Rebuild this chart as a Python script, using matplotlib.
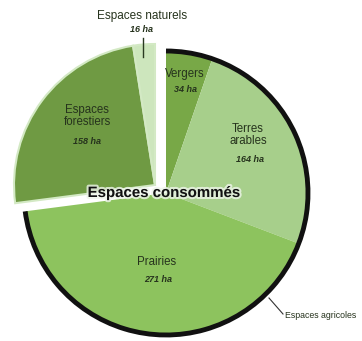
import numpy as np
import matplotlib
matplotlib.use('Agg')
from matplotlib import pyplot as plt
from matplotlib.patches import Arc
import matplotlib.patheffects as pe

# données (ha)
agri_labels = ['Vergers', 'Terres\narables', 'Prairies']
agri_values = [34, 164, 271]
agri_colors = ['#78a847', '#a7cf8b', '#8dc35e']

nat_labels = ['Espaces\nforestiers', 'Espaces naturels']
nat_values = [158, 16]
nat_colors = ['#6f9a43', '#cde6bd']

plt.rcParams['font.family'] = ['Liberation Sans', 'DejaVu Sans']
TXT = '#26331d'

total = sum(agri_values) + sum(nat_values)
agri_frac = [v / total for v in agri_values]
nat_frac = [v / total for v in nat_values]
agri_deg = 360 * sum(agri_frac)

W, H = 362, 341
fig = plt.figure(figsize=(W / 100, H / 100), dpi=100)
ax = fig.add_axes([0, 0, 1, 1])

r = 141
c_agri = (166, H - 193)
c_nat = (155, H - 185)

ax.pie(agri_frac, colors=agri_colors, normalize=False, startangle=90,
       counterclock=False, radius=r, center=c_agri,
       wedgeprops=dict(linewidth=0))
ax.pie(nat_frac, colors=nat_colors, normalize=False, startangle=90 - agri_deg,
       counterclock=False, radius=r, center=c_nat,
       wedgeprops=dict(edgecolor='#d3e9c4', linewidth=1.5))

# bordure noire des espaces agricoles
ax.add_patch(Arc(c_agri, 2 * r + 2, 2 * r + 2, theta1=90 - agri_deg, theta2=90,
                 color='#111111', linewidth=3.5, zorder=5))

ax.set_xlim(0, W)
ax.set_ylim(0, H)
ax.set_aspect('equal')
ax.axis('off')

def lab(x, y, name, size=8.3):
    ax.text(x, H - y, name, ha='center', va='center', fontsize=size,
            color=TXT, linespacing=1.0)

def ha(x, y, val):
    ax.text(x, H - y, f'{val} ha', ha='center', va='center', fontsize=6.5,
            style='italic', fontweight='bold', color=TXT)

# étiquettes
lab(142, 16, nat_labels[1], size=8.5)
ha(142, 30, nat_values[1])
ax.plot([143, 143], [H - 38, H - 57], color='#2a3a22', linewidth=1)

lab(87, 116, nat_labels[0])
ha(87, 142, nat_values[0])

lab(185, 74, agri_labels[0])
ha(186, 90, agri_values[0])

lab(248, 135, agri_labels[1])
ha(250, 160, agri_values[1])

lab(157, 262, agri_labels[2])
ha(158, 280, agri_values[2])

ax.plot([269, 283], [H - 298, H - 314], color='#333333', linewidth=0.8)
ax.text(285, H - 316, 'Espaces agricoles', ha='left', va='center',
        fontsize=6.3, color=TXT)

ax.text(164, H - 193, 'Espaces consommés', ha='center', va='center',
        fontsize=10.8, fontweight='bold', color='#111111', zorder=10,
        path_effects=[pe.withStroke(linewidth=3, foreground='#eef5ea', alpha=0.8)])

fig.savefig('out.png', dpi=100, facecolor='white')
